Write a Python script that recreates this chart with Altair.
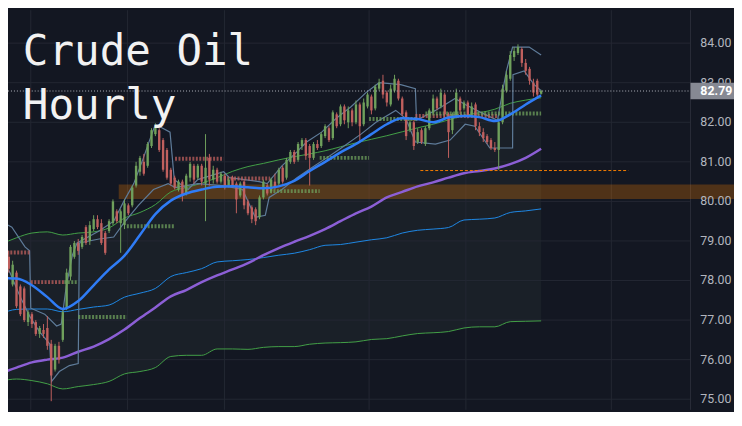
import altair as alt
import pandas as pd

# ---------------- data ----------------
opens = [79.65,79.0,78.6,77.9,78.2,77.85,77.8,76.95,77.15,76.95,
         76.65,76.75,76.8,76.4,75.75,76.35,76.5,77.3,78.1,78.6,
         78.95,78.85,79.35,79.0,79.3,79.55,79.45,79.2,79.25,79.45,
         79.75,79.45,79.4,79.9,79.9,80.4,80.75,81.0,80.9,81.4,
         81.7,81.8,81.55,81.3,80.8,80.6,80.3,80.5,80.2,80.6,
         80.9,80.6,80.9,80.45,81.1,80.55,80.8,80.5,80.65,80.4,
         80.6,80.45,80.15,80.5,80.0,79.85,79.8,79.6,80.1,80.4,
         80.25,80.5,80.45,80.85,80.6,81.0,81.25,81.05,81.4,81.55,
         81.4,81.1,81.45,81.4,81.65,81.85,81.6,82.2,81.95,82.4,
         82.0,82.3,82.0,82.45,81.95,82.4,82.65,82.35,82.85,83.05,
         82.75,82.45,82.8,83.05,82.6,82.25,81.8,82.0,81.5,81.8,
         81.45,81.85,82.25,82.6,82.4,82.7,82.2,81.8,82.15,82.6,
         82.35,82.5,82.2,82.45,81.9,81.75,81.65,81.55,81.35,81.3,
         82.0,82.8,83.1,83.65,83.75,83.85,83.5,83.35,83.0,83.05,
         82.72]
highs = [79.75,79.05,78.75,78.5,78.25,77.9,77.85,77.25,77.2,77.0,
         76.85,76.9,77.1,76.5,76.4,76.45,77.25,78.3,78.9,79.0,
         79.05,79.15,79.4,79.5,79.65,79.65,79.55,79.25,79.55,80.05,
         79.8,79.8,80.05,79.95,80.4,81.0,81.15,81.2,81.5,81.85,
         81.97,81.85,81.6,81.35,80.85,80.65,80.55,80.55,80.7,81.0,
         80.95,80.95,80.95,81.7,81.2,80.9,80.85,80.75,80.7,80.6,
         80.65,80.5,80.5,80.55,80.05,79.9,79.85,80.15,80.55,80.45,
         80.6,80.7,80.85,80.9,81.1,81.3,81.3,81.5,81.6,81.6,
         81.45,81.5,81.55,81.75,81.95,81.9,82.3,82.25,82.45,82.45,
         82.4,82.35,82.55,82.5,82.6,82.75,82.7,82.95,83.1,83.2,
         82.8,82.95,83.2,83.1,82.65,82.3,82.1,82.05,81.85,81.85,
         81.9,82.35,82.7,82.65,82.85,82.75,82.25,82.25,82.85,82.65,
         82.55,82.55,82.5,82.5,82.0,81.85,81.7,81.6,81.5,82.1,
         82.95,83.3,83.8,83.9,83.97,83.9,83.6,83.4,83.1,83.1,
         82.82]
lows = [78.95,78.5,78.2,77.85,77.3,77.1,76.95,76.85,76.8,76.6,
        76.55,76.55,76.25,74.95,75.7,75.9,76.45,77.25,78.0,78.55,
        78.65,78.8,78.9,78.9,79.25,79.3,78.9,78.65,79.2,79.4,
        79.45,78.7,79.3,79.65,79.85,80.35,80.65,80.65,80.85,81.35,
        81.65,81.25,80.75,80.55,80.4,80.3,80.25,80.0,80.15,80.5,
        80.45,80.55,80.4,79.5,80.4,80.45,80.45,80.45,80.3,80.35,
        80.35,79.7,80.1,79.8,79.65,79.45,79.4,79.55,80.05,80.15,
        80.2,80.3,80.4,80.45,80.55,80.95,80.95,81.0,81.3,81.05,
        80.4,81.05,81.3,81.35,81.6,81.5,81.55,81.85,81.9,81.95,
        81.85,81.9,81.95,81.5,81.9,82.35,82.2,82.3,82.8,82.6,
        82.4,82.4,82.75,82.55,82.15,81.55,81.75,81.3,81.45,81.45,
        81.4,81.8,82.2,82.3,82.35,82.1,81.1,81.7,82.1,82.2,
        82.3,82.1,82.15,81.8,81.65,81.5,81.45,81.3,81.25,80.8,
        81.95,82.75,83.05,83.55,83.7,83.4,83.2,82.95,82.65,82.6,
        82.7]
closes = [79.0,78.55,78.3,78.4,77.35,77.15,77.0,77.2,76.9,76.65,
          76.8,76.65,76.35,75.6,76.35,76.0,77.2,78.2,78.85,78.95,
          78.75,79.1,78.95,79.4,79.55,79.35,78.95,78.7,79.5,80.0,
          79.5,79.75,79.95,79.7,80.35,80.9,81.1,80.7,81.45,81.8,
          81.9,81.3,80.8,80.6,80.45,80.35,80.5,80.15,80.65,80.95,
          80.55,80.9,80.5,80.85,80.55,80.8,80.5,80.7,80.35,80.55,
          80.4,80.05,80.45,79.9,79.7,79.55,79.5,80.1,80.5,80.2,
          80.55,80.35,80.8,80.5,81.05,81.25,81.0,81.45,81.55,81.15,
          81.1,81.45,81.35,81.7,81.9,81.55,82.25,81.9,82.4,82.05,
          82.3,82.0,82.45,81.9,82.5,82.7,82.3,82.9,83.0,82.7,
          82.5,82.85,83.1,82.6,82.2,81.65,82.0,81.4,81.75,81.5,
          81.85,82.3,82.6,82.35,82.75,82.2,81.75,82.2,82.75,82.3,
          82.5,82.15,82.4,81.9,81.75,81.6,81.5,81.35,81.3,82.0,
          82.85,83.2,83.7,83.8,83.9,83.5,83.3,83.05,82.75,82.7,
          82.79]

# indicator lines sampled every 4 hours
ma_hours = list(range(0, 141, 4))
band_upper = [78.92,79.08,79.2,79.23,79.15,79.2,79.23,79.33,79.58,79.72,79.92,80.24,80.35,80.46,80.6,80.76,80.88,80.96,
              81.05,81.13,81.2,81.28,81.38,81.48,81.57,81.66,81.76,81.86,81.95,82.06,82.17,82.24,82.33,82.48,82.56,82.62]
band_lower = [75.46,75.51,75.47,75.39,75.26,75.32,75.37,75.45,75.64,75.7,75.8,76.08,76.11,76.11,76.27,76.27,76.26,76.31,
              76.33,76.33,76.39,76.42,76.43,76.45,76.51,76.53,76.6,76.66,76.68,76.71,76.8,76.83,76.83,76.96,76.97,76.98]
blue_lower = [77.16,77.27,77.28,77.28,77.21,77.27,77.33,77.38,77.58,77.68,77.8,78.1,78.2,78.3,78.47,78.5,78.53,78.58,
              78.64,78.69,78.78,78.89,78.91,78.97,79.03,79.08,79.2,79.27,79.3,79.34,79.53,79.55,79.58,79.72,79.76,79.81]
ma_slow = [75.66,75.8,75.93,76.0,76.05,76.2,76.33,76.52,76.76,77.05,77.32,77.6,77.76,77.96,78.13,78.28,78.44,78.64,
           78.82,78.98,79.13,79.3,79.5,79.7,79.87,80.1,80.24,80.38,80.48,80.6,80.71,80.77,80.83,80.94,81.1,81.33]
ema_fast = [78.06,78.05,77.88,77.58,77.28,77.48,77.88,78.28,78.63,79.15,79.68,80.02,80.2,80.3,80.37,80.38,80.36,80.33,
            80.38,80.52,80.77,81.0,81.24,81.45,81.7,81.95,82.1,82.08,82.0,82.12,82.16,82.13,82.03,82.2,82.45,82.68]

# step envelope
env_hi_hours = [-0.3,2.8,6.2,7.4,7.7,11.3,14.4,15.6,16.9,18.5,19.7,25.4,29.2,31.8,34.4,36.9,38.7,40.0,43.8,44.9,48.5,51.0,
                57.7,59.2,66.9,69.0,72.8,76.7,79.2,83.1,86.9,90.8,94.6,98.0,103.6,107.4,107.7,112.6,117.7,120.3,125.4,
                128.7,129.5,131.0,132.6,136.9,140.0]
env_hi = [79.5,79.35,78.85,78.75,77.3,77.15,76.85,76.9,77.85,78.65,78.95,79.25,79.5,80.0,80.45,81.1,81.6,81.95,81.75,80.55,
          80.3,80.55,80.75,80.6,80.5,80.45,80.9,81.25,81.5,81.75,82.1,82.4,82.75,83.0,82.95,82.85,82.05,82.3,82.6,82.45,
          82.2,82.05,82.5,83.3,83.9,83.9,83.7]
env_lo_hours = [-0.3,2.3,4.9,7.4,10.0,12.6,13.1,15.1,17.7,20.0,20.3,25.4,29.2,31.8,35.6,39.5,43.3,45.1,51.0,57.4,62.6,65.9,
                68.5,69.5,72.8,76.7,80.5,84.4,88.2,93.3,97.2,102.3,104.9,107.4,112.6,116.4,120.3,122.8,126.7,128.7,132.6,
                132.7,135.6,138.2,140.0]
env_lo = [78.6,78.2,77.6,77.1,76.7,76.4,75.45,75.7,75.85,75.9,78.95,79.05,79.1,79.45,79.9,80.3,80.45,80.35,80.45,80.4,80.3,
          79.6,79.65,80.1,80.3,80.6,80.85,81.1,81.35,81.7,82.0,82.3,82.1,81.5,81.45,81.55,81.95,81.9,81.35,81.35,81.35,
          83.2,83.3,82.95,82.8]

# pivot segments
seg_start = [-0.3, 7.7, 16.4, 20.0, 32.6, 45.1, 57.7, 69.7, 82.6, 95.4, 107.4, 110.0]
seg_end = [7.7, 16.4, 20.0, 32.6, 45.1, 57.7, 69.7, 82.6, 95.4, 108.0, 128.7, 140.0]
seg_price = [78.71, 77.96, 77.96, 77.08, 79.37, 81.08, 80.58, 80.26, 81.1, 82.08, 82.16, 82.22]
seg_kind = ["down", "down", "up", "up", "up", "down", "down", "up", "up", "up", "down", "up"]

# zones / levels
zone_start, zone_end, zone_lo, zone_hi = 30.5, 195.0, 80.06, 80.43
support_start, support_end, support_price = 108.7, 162.6, 80.78
last_price = 82.79
day_marks = [7.7, 32.8, 57.9, 95.4, 120.5, 158.2]
price_ticks = [75, 76, 77, 78, 79, 80, 81, 82, 83, 84, 85]
title_text = "Crude Oil\nHourly"

# ---------------- chart ----------------
BG = "#131722"
W, H = 734, 404
xs = alt.Scale(domain=[1.795, 190.0], nice=False, zero=False)
ys = alt.Scale(domain=[74.7325, 84.8325], nice=False, zero=False)
X = lambda f: alt.X(f, type="quantitative", scale=xs, axis=None)
Y = lambda f: alt.Y(f, type="quantitative", scale=ys, axis=None)
dir_scale = alt.Scale(domain=["up", "down"], range=["#26a69a", "#ef5350"])

cdf = pd.DataFrame({"hour": list(range(len(closes))), "open": opens, "high": highs,
                    "low": lows, "close": closes})
cdf["dir"] = ["up" if c >= o else "down" for o, c in zip(opens, closes)]

mdf = pd.DataFrame({"hour": ma_hours, "bu": band_upper, "bl": band_lower, "blue": blue_lower,
                    "slow": ma_slow, "fast": ema_fast})
hidf = pd.DataFrame({"hour": env_hi_hours, "v": env_hi})
lodf = pd.DataFrame({"hour": env_lo_hours, "v": env_lo})
segdf = pd.DataFrame({"s": seg_start, "e": seg_end, "p": seg_price, "k": seg_kind})
zdf = pd.DataFrame({"s": [zone_start], "e": [zone_end], "lo": [zone_lo], "hi": [zone_hi]})
supdf = pd.DataFrame({"s": [support_start], "e": [support_end], "p": [support_price]})
lpdf = pd.DataFrame({"p": [last_price], "top": [last_price + 0.21], "bot": [last_price - 0.21],
                     "t": [f"{last_price:.2f}"]})
vgdf = pd.DataFrame({"hour": day_marks})
tkdf = pd.DataFrame({"p": price_ticks, "t": [f"{p:.2f}" for p in price_ticks]})
ttdf = pd.DataFrame({"t": [title_text]})

band = alt.Chart(mdf).mark_area(color="#1a2028").encode(x=X("hour"), y=Y("bl"), y2="bu")
hgrid = alt.Chart(tkdf).mark_rule(color="#232733", strokeWidth=1).encode(
    y=Y("p"), x=alt.value(0), x2=alt.value(690))
vgrid = alt.Chart(vgdf).mark_rule(color="#232733", strokeWidth=1).encode(
    x=X("hour"), y=alt.value(0), y2=alt.value(H))
sep = alt.Chart(vgdf.head(1)).mark_rule(color="#2a2e39", strokeWidth=1).encode(
    x=alt.value(690), y=alt.value(0), y2=alt.value(H))
zone = alt.Chart(zdf).mark_rect(color="#f57c00", opacity=0.27).encode(
    x=X("s"), x2="e", y=Y("lo"), y2="hi")

def line(field, color, width, op=1.0):
    return alt.Chart(mdf).mark_line(color=color, strokeWidth=width, opacity=op,
                                    interpolate="monotone").encode(x=X("hour"), y=Y(field))

l_bu = line("bu", "#43a047", 1)
l_bl = line("bl", "#43a047", 1)
l_blue = line("blue", "#1e88e5", 1)
l_slow = line("slow", "#8c5fd6", 2.5)
l_fast = line("fast", "#2f7cf6", 2.5)

env_h = alt.Chart(hidf).mark_line(color="#5f7c9a", strokeWidth=1.2).encode(x=X("hour"), y=Y("v"))
env_l = alt.Chart(lodf).mark_line(color="#5f7c9a", strokeWidth=1.2).encode(x=X("hour"), y=Y("v"))

segs = alt.Chart(segdf).mark_rule(strokeWidth=4, strokeDash=[2, 1.5], opacity=0.75).encode(
    x=X("s"), x2="e", y=Y("p"),
    color=alt.Color("k:N", scale=alt.Scale(domain=["up", "down"], range=["#6fa05c", "#c0605e"]), legend=None))

wick = alt.Chart(cdf).mark_rule(strokeWidth=1).encode(
    x=X("hour"), y=Y("low"), y2="high", color=alt.Color("dir:N", scale=dir_scale, legend=None))
body = alt.Chart(cdf).mark_rule(strokeWidth=2.4).encode(
    x=X("hour"), y=Y("open"), y2="close", color=alt.Color("dir:N", scale=dir_scale, legend=None))

sup = alt.Chart(supdf).mark_rule(color="#f57c00", strokeDash=[3, 2], strokeWidth=1).encode(
    x=X("s"), x2="e", y=Y("p"))
lpline = alt.Chart(lpdf).mark_rule(color="#b2b5be", strokeDash=[1, 2], strokeWidth=1).encode(
    y=Y("p"), x=alt.value(0), x2=alt.value(690))

labels = alt.Chart(tkdf).mark_text(align="left", baseline="middle", font="Roboto", fontSize=12.5,
                                   color="#b2b5be").encode(y=Y("p"), x=alt.value(700), text="t:N")
tag = alt.Chart(lpdf).mark_rect(color="#868993").encode(
    y=Y("top"), y2="bot", x=alt.value(690), x2=alt.value(734))
tagtxt = alt.Chart(lpdf).mark_text(align="left", baseline="middle", font="Roboto", fontSize=12.5,
                                   fontWeight="bold", color="#ffffff").encode(y=Y("p"), x=alt.value(700), text="t:N")

title = alt.Chart(ttdf).mark_text(align="left", baseline="alphabetic", font="DejaVu Sans Mono",
                                  fontSize=43, lineBreak="\n", lineHeight=55, color="#f2f2f2").encode(
    x=alt.value(15), y=alt.value(55), text="t:N")

chart = alt.layer(
    band, hgrid, vgrid, sep, zone, l_bl, l_blue, l_slow, l_bu, env_h, env_l, segs,
    wick, body, l_fast, sup, lpline, title, labels, tag, tagtxt
).properties(
    width=W, height=H, padding=0, background=BG,
    autosize=alt.AutoSizeParams(type="none"),
).configure_view(stroke=None)

chart.save("out.html", embed_options={"renderer": "svg", "actions": False})
